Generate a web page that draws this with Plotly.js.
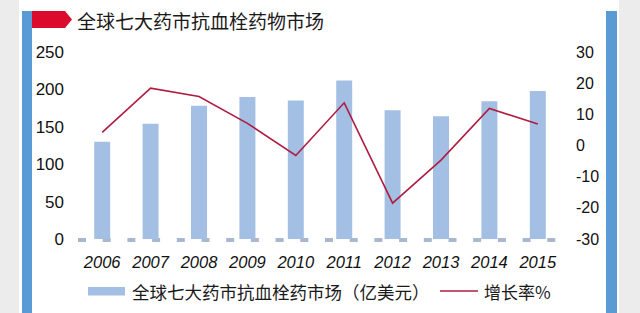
<!DOCTYPE html>
<html>
<head>
<meta charset="utf-8">
<script src="https://cdn.plot.ly/plotly-3.0.1.min.js"></script>
<style>
html,body{margin:0;padding:0;background:#fff;}
#chart{width:640px;height:313px;}
</style>
</head>
<body>
<div id="chart"></div>
<script>
const years = ['2006','2007','2008','2009','2010','2011','2012','2013','2014','2015'];
const market = [130, 154, 178, 190, 185, 212, 172, 164, 184, 198];
const growth = [4.2, 18.4, 15.7, 7.1, -3.2, 13.7, -18.5, -4.7, 11.9, 6.9];
const leftTicks = [0, 50, 100, 150, 200, 250];
const rightTicks = [-30, -20, -10, 0, 10, 20, 30];
const rightTickText = ['-30', '-20', '-10', '0', '10', '20', '30'];
const titleText = '全球七大药市抗血栓药物市场';
const legendBar = '全球七大药市抗血栓药市场（亿美元）';
const legendLine = '增长率%';

const W = 640, H = 313, L = 78, R = 562, T = 52, B = 239;
const px = x => (x - L) / (R - L);
const py = y => (B - y) / (B - T);

const numFont = 'Liberation Sans, Arial, sans-serif';
const cjkFont = 'Noto Sans CJK SC, sans-serif';
const barColor = '#a3bfe4';
const lineColor = '#b01c40';
const blue = '#5b9bd5';

const traces = [
  {type:'bar', x: years, y: market, name: legendBar, marker:{color: barColor}, yaxis:'y', showlegend:false, hoverinfo:'skip'},
  {type:'scatter', mode:'lines', x: years, y: growth, name: legendLine, line:{color: lineColor, width:1.6}, yaxis:'y2', showlegend:false, hoverinfo:'skip'}
];

const layout = {
  width: W, height: H,
  margin: {l: L, r: W - R, t: T, b: H - B, pad: 0},
  paper_bgcolor: '#ffffff', plot_bgcolor: 'rgba(0,0,0,0)',
  bargap: 0.67,
  showlegend: false,
  xaxis: {type:'category', range:[-0.5, 9.5], showgrid:false, zeroline:false, showline:false, ticks:'',
          tickfont:{family: numFont, size:16.5, color:'#111', style:'italic'}, ticklabelstandoff: 11, fixedrange:true},
  yaxis: {range:[0, 250], tickvals: leftTicks, showgrid:false, zeroline:false, showline:false, ticks:'',
          tickfont:{family: numFont, size:17, color:'#111'}, ticklabelstandoff: 13, fixedrange:true},
  yaxis2: {range:[-30, 30], tickvals: rightTicks, ticktext: rightTickText, overlaying:'y', side:'right', showgrid:false, zeroline:false, showline:false, ticks:'',
          tickfont:{family: numFont, size:16, color:'#111'}, ticklabelstandoff: 13, fixedrange:true},
  shapes: [
    {type:'rect', xref:'paper', yref:'paper', x0:px(0), x1:px(19), y0:py(0), y1:py(H), fillcolor:'#ececec', line:{width:0}, layer:'below'},
    {type:'rect', xref:'paper', yref:'paper', x0:px(619), x1:px(W), y0:py(0), y1:py(H), fillcolor:'#ececec', line:{width:0}, layer:'below'},
    {type:'rect', xref:'paper', yref:'paper', x0:px(22), x1:px(32), y0:py(11), y1:py(H), fillcolor:blue, line:{width:0}, layer:'below'},
    {type:'rect', xref:'paper', yref:'paper', x0:px(606), x1:px(617), y0:py(11), y1:py(H), fillcolor:blue, line:{width:0}, layer:'below'},
    {type:'path', xref:'paper', yref:'paper',
     path:`M ${px(32)},${py(11)} L ${px(65)},${py(11)} L ${px(72)},${py(19.5)} L ${px(65)},${py(28)} L ${px(32)},${py(28)} Z`,
     fillcolor:'#dc0a2d', line:{width:0}, layer:'above'},
    {type:'line', xref:'paper', yref:'paper', x0:px(78), x1:px(558), y0:py(240), y1:py(240), line:{color:'#a9b7d0', width:4, dash:'8px,16.7px'}, layer:'below'},
    {type:'rect', xref:'paper', yref:'paper', x0:px(88), x1:px(125), y0:py(287), y1:py(295.5), fillcolor:barColor, line:{width:0}},
    {type:'line', xref:'paper', yref:'paper', x0:px(440), x1:px(478), y0:py(291), y1:py(291), line:{color:lineColor, width:1.6}}
  ],
  annotations: [
    {xref:'paper', yref:'paper', x:px(75), y:py(20), text:titleText, showarrow:false, xanchor:'left', yanchor:'middle',
     font:{family: cjkFont, size:19, color:'#1a1a1a'}},
    {xref:'paper', yref:'paper', x:px(130), y:py(291.5), text:legendBar, showarrow:false, xanchor:'left', yanchor:'middle',
     font:{family: cjkFont, size:17.5, color:'#1a1a1a'}},
    {xref:'paper', yref:'paper', x:px(482), y:py(291.5), text:legendLine, showarrow:false, xanchor:'left', yanchor:'middle',
     font:{family: cjkFont, size:17, color:'#1a1a1a'}}
  ]
};

Plotly.newPlot('chart', traces, layout, {displayModeBar:false, staticPlot:true});
</script>
</body>
</html>
